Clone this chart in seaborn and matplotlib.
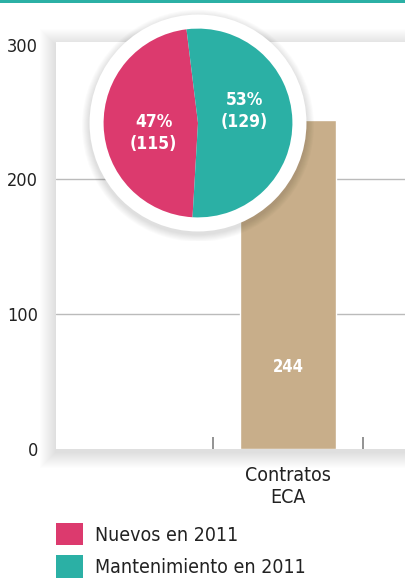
import numpy as np
import pandas as pd
import matplotlib
matplotlib.use("Agg")
import matplotlib.pyplot as plt
import seaborn as sns
from matplotlib.patches import Patch, Rectangle, Circle

# data
categories = ["Contratos\nECA"]
totals = [244]
pie_labels = ["Nuevos en 2011", "Mantenimiento en 2011"]
pie_values = [115, 129]
pie_colors = ["#DC3A6E", "#2BB0A5"]
bar_color = "#C8AE8A"
yticks = [0, 100, 200, 300]

sns.set_style("white")
plt.rcParams["font.family"] = ["DejaVu Sans"]
plt.rcParams["font.stretch"] = "condensed"

W, H = 406, 584
fig = plt.figure(figsize=(W / 100, H / 100), dpi=100)
fig.patch.set_facecolor("white")

def fx(px):
    return px / W

def fy(py):
    return 1 - py / H

# top teal rule
fig.add_artist(Rectangle((0, fy(3)), 1, 3 / H, transform=fig.transFigure,
                         color="#2BB0A5", lw=0))

# soft shadow behind the plot box
left, right, top, bottom = 56, 440, 42, 449
for i in range(16, 0, -1):
    fig.add_artist(Rectangle((fx(left - i), fy(bottom + i + 3)),
                             (right - left + 2 * i) / W,
                             (bottom - top + 2 * i) / H,
                             transform=fig.transFigure, color="black",
                             alpha=0.009, lw=0, zorder=0))

ax = fig.add_axes([fx(left), fy(bottom), (right - left) / W, (bottom - top) / H])
ax.set_facecolor("white")
ax.set_zorder(1)

df = pd.DataFrame({"cat": categories, "total": totals})
sns.barplot(data=df, x="cat", y="total", color=bar_color, width=0.64,
            saturation=1, ax=ax, zorder=3)
ax.set_xlim(-1.547, (right - 288) / 150)
ax.set_ylim(0, 302)
ax.set_yticks(yticks)
ax.set_yticklabels([str(v) for v in yticks], fontsize=13, color="#222222")
ax.tick_params(axis="y", length=0, pad=13)
ax.tick_params(axis="x", length=0, pad=12, labelsize=14, labelcolor="#222222")
ax.set_xlabel("")
ax.set_ylabel("")
ax.set_xticks([-0.5, 0.5], minor=True)
ax.tick_params(axis="x", which="minor", bottom=True, direction="in", length=9,
               width=1.3, color="#8A8A8A")
for y in yticks[1:3]:
    ax.axhline(y, color="#BBBBBB", lw=1, zorder=1)
for s in ax.spines.values():
    s.set_visible(False)

for i, v in enumerate(totals):
    ax.text(i, v * 0.25, str(v), ha="center", va="center", color="white",
            fontsize=12, fontweight="bold", zorder=4)

# pie inset
cx, cy, half = 198, 123, 118
pax = fig.add_axes([fx(cx - half), fy(cy + half), 2 * half / W, 2 * half / H])
pax.set_zorder(2)
pax.set_xlim(-half / 94, half / 94)
pax.set_ylim(-half / 94, half / 94)
pax.set_aspect("equal")
pax.axis("off")
for i in range(8, 0, -1):
    pax.add_patch(Circle((0.0, -0.03), 1.149 + i * 0.01, color="black",
                         alpha=0.015, lw=0, zorder=0))
pax.add_patch(Circle((0, 0), 1.149, color="white", lw=0, zorder=1))
wedges, _ = pax.pie(pie_values, colors=pie_colors, startangle=97,
                    counterclock=True, radius=1,
                    wedgeprops=dict(linewidth=0, zorder=2))
for w in wedges:
    w.set_zorder(2)
total = sum(pie_values)
label_pos = [(-0.47, -0.11), (0.49, 0.13)]
for (lx, ly), v in zip(label_pos, pie_values):
    pax.text(lx, ly, f"{round(100 * v / total)}%\n({v})", ha="center",
             va="center", color="white", fontsize=12.5, fontweight="bold",
             linespacing=1.3, zorder=3)

handles = [Patch(facecolor=c, edgecolor="none") for c in pie_colors]
fig.legend(handles, pie_labels, loc="upper left",
           bbox_to_anchor=(fx(56), fy(523)), frameon=False, fontsize=14,
           handlelength=1.4, handleheight=1.4, handletextpad=0.6,
           labelspacing=0.5, borderpad=0, borderaxespad=0,
           labelcolor="#222222")

fig.savefig("out.png", dpi=100)
